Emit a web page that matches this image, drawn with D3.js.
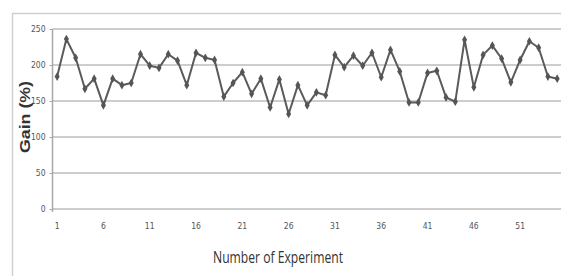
<!DOCTYPE html>
<html>
<head>
<meta charset="utf-8">
<script src="https://cdn.jsdelivr.net/npm/d3@7"></script>
<style>
  html, body { margin: 0; padding: 0; background: #fff; }
  svg { display: block; }
</style>
</head>
<body>
<svg id="chart" width="561" height="276"></svg>
<script>
const experiments = d3.range(1, 56);
const gain = [184, 236, 210, 167, 181, 144, 181, 172, 175, 215,
              199, 196, 215, 206, 172, 217, 210, 207, 156, 175,
              190, 160, 181, 141, 180, 132, 172, 144, 162, 158,
              214, 197, 213, 199, 217, 183, 221, 191, 148, 148,
              189, 192, 155, 149, 235, 169, 214, 227, 209, 176,
              207, 233, 224, 184, 181];
const xTickLabels = [1, 6, 11, 16, 21, 26, 31, 36, 41, 46, 51];
const yTickValues = [0, 50, 100, 150, 200, 250];
const xTitle = "Number of Experiment";
const yTitle = "Gain (%)";

const svg = d3.select("#chart");

// outer chart border
svg.append("rect")
  .attr("x", 12.5).attr("y", 13.5)
  .attr("width", 600).attr("height", 300)
  .attr("fill", "none").attr("stroke", "#cfcfcf").attr("stroke-width", 1.5);

const plotLeft = 52.5, bandW = 9.26;
const x = d3.scaleBand().domain(experiments)
  .range([plotLeft, plotLeft + bandW * experiments.length]).padding(0);
const y = d3.scaleLinear().domain([0, 250]).range([209, 29]);
const cx = d => x(d) + x.bandwidth() / 2;

// gridlines
svg.append("g").selectAll("line").data(yTickValues).join("line")
  .attr("x1", plotLeft).attr("x2", 561)
  .attr("y1", d => y(d)).attr("y2", d => y(d))
  .attr("stroke", "#bdbdbd").attr("stroke-width", 1.5);

// y axis line
svg.append("line")
  .attr("x1", plotLeft).attr("x2", plotLeft)
  .attr("y1", y(250)).attr("y2", y(0) + 3)
  .attr("stroke", "#a8a8a8").attr("stroke-width", 1.5);

// y axis with d3
const yAxis = d3.axisLeft(y).tickValues(yTickValues).tickSize(3).tickPadding(4);
const gy = svg.append("g").attr("transform", `translate(${plotLeft},0)`).call(yAxis);
gy.select(".domain").remove();
gy.selectAll(".tick line").attr("stroke", "#a8a8a8");
gy.selectAll(".tick text")
  .attr("font-family", "'DejaVu Sans Condensed', 'Liberation Sans Narrow', 'Liberation Sans', sans-serif")
  .attr("font-size", 8.5).attr("fill", "#555");

// x axis labels
const xAxis = d3.axisBottom(x).tickValues(xTickLabels).tickSize(0).tickPadding(14);
const gx = svg.append("g").attr("transform", `translate(0,${y(0)})`).call(xAxis);
gx.select(".domain").remove();
gx.selectAll(".tick text")
  .attr("font-family", "'DejaVu Sans Condensed', 'Liberation Sans Narrow', 'Liberation Sans', sans-serif")
  .attr("font-size", 8.5).attr("fill", "#555");

// line
const line = d3.line().x((d, i) => cx(experiments[i])).y(d => y(d));
svg.append("path").datum(gain)
  .attr("d", line).attr("fill", "none")
  .attr("stroke", "#5a5a5a").attr("stroke-width", 2).attr("stroke-linejoin", "round");

// diamond markers
const sym = d3.symbol().type(d3.symbolDiamond).size(22);
svg.append("g").selectAll("path").data(gain).join("path")
  .attr("d", sym)
  .attr("transform", (d, i) => `translate(${cx(experiments[i])},${y(d)})`)
  .attr("fill", "#555");

// axis titles
svg.append("text")
  .attr("transform", "translate(30,117) rotate(-90)")
  .attr("text-anchor", "middle")
  .attr("font-family", "'Liberation Sans', Arial, sans-serif")
  .attr("font-weight", "bold").attr("font-size", 14).attr("fill", "#333")
  .attr("textLength", 72).attr("lengthAdjust", "spacingAndGlyphs")
  .text(yTitle);

svg.append("text")
  .attr("x", 278).attr("y", 263)
  .attr("text-anchor", "middle")
  .attr("font-family", "'Open Sans', 'Liberation Sans', sans-serif")
  .attr("font-size", 17).attr("fill", "#333")
  .attr("textLength", 130).attr("lengthAdjust", "spacingAndGlyphs")
  .text(xTitle);
</script>
</body>
</html>
